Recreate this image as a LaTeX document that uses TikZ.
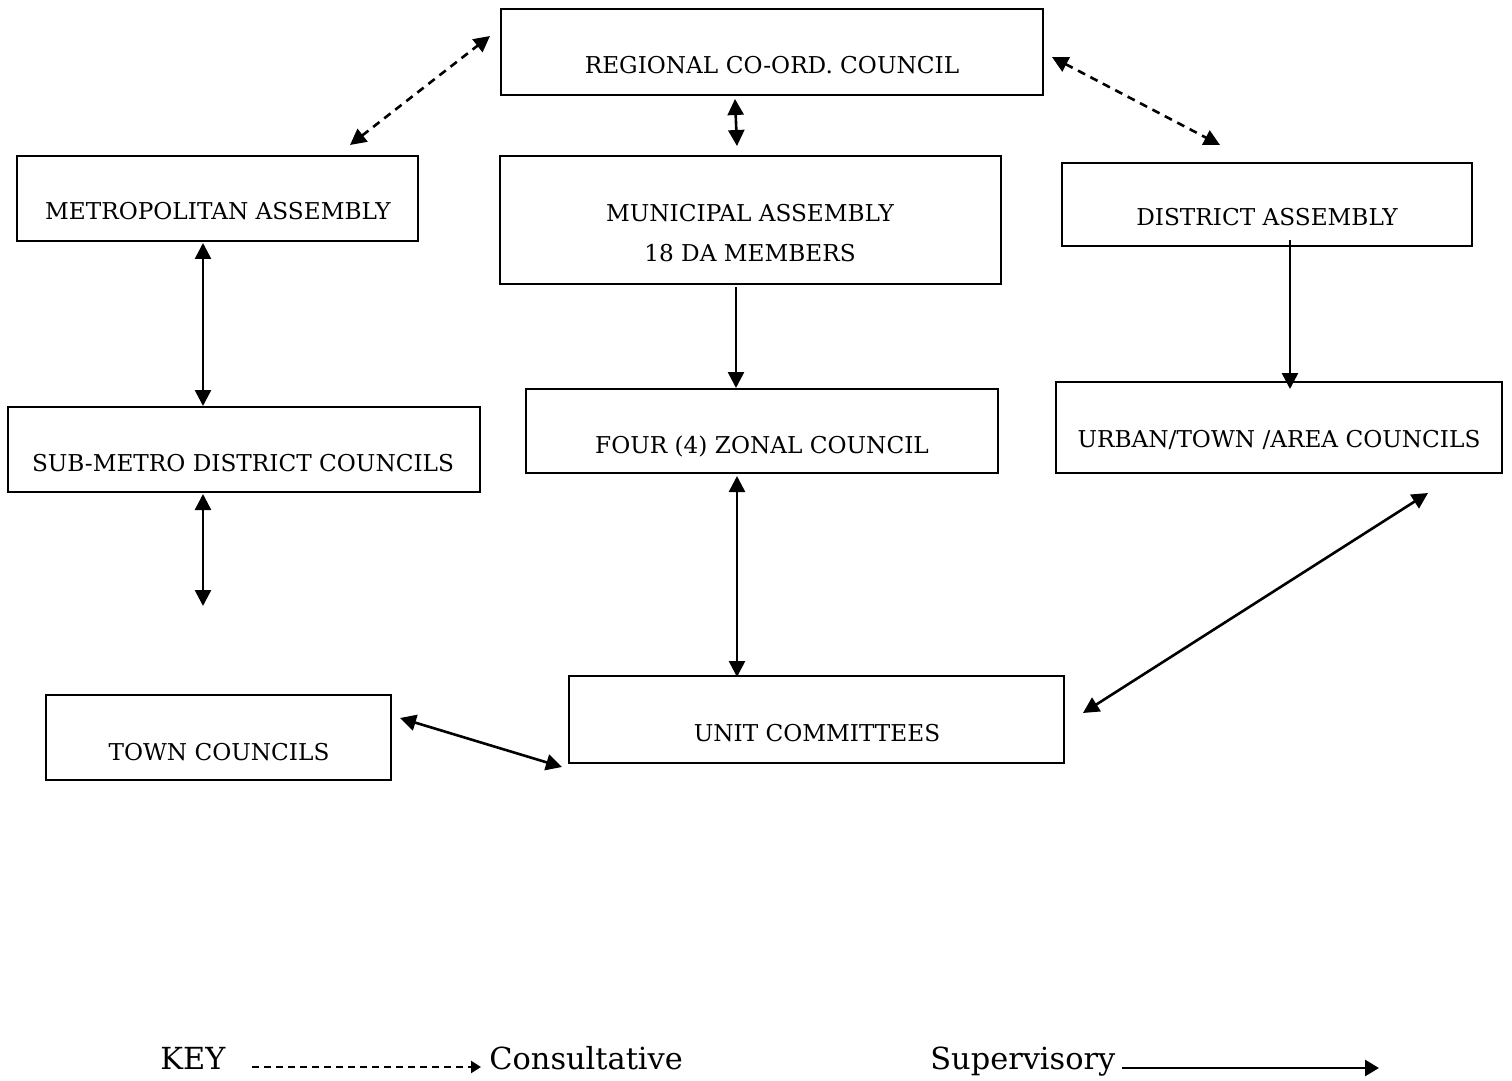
\documentclass[tikz,border=0pt]{standalone}
\usepackage{fontspec}
\setmainfont{DejaVu Serif}
\usetikzlibrary{arrows.meta,fit}
\begin{document}
\begin{tikzpicture}[x=0.5pt,y=-0.5pt,
  box/.style={draw, line width=1.4pt, inner sep=0pt},
  txt/.style={anchor=base, font=\fontsize{11.6}{14}\selectfont, inner sep=0pt},
  keytxt/.style={anchor=base west, font=\fontsize{15.2}{18}\selectfont, inner sep=0pt},
  tip/.tip={Triangle[length=8pt,width=8pt]},
  sup/.style={line width=1.3pt, -tip},
  both/.style={line width=1.3pt, tip-tip},
  cons/.style={line width=1.3pt, dash pattern=on 4pt off 3pt, tip-tip}]
\useasboundingbox (0,0) rectangle (1512,1081);

% boxes
\node[box, fit={(501,9) (1043,95)}] (rcc) {};
\node[box, fit={(17,156) (418,241)}] (met) {};
\node[box, fit={(500,156) (1001,284)}] (mun) {};
\node[box, fit={(1062,163) (1472,246)}] (dis) {};
\node[box, fit={(8,407) (480,492)}] (sub) {};
\node[box, fit={(526,389) (998,473)}] (zon) {};
\node[box, fit={(1056,382) (1502,473)}] (urb) {};
\node[box, fit={(46,695) (391,780)}] (twn) {};
\node[box, fit={(569,676) (1064,763)}] (uni) {};

% texts
\node[txt] (trcc) at (772,74) {REGIONAL CO-ORD. COUNCIL};
\node[txt] (tmet) at (218,220) {METROPOLITAN ASSEMBLY};
\node[txt] (tmun1) at (750,221.5) {MUNICIPAL ASSEMBLY};
\node[txt] (tmun2) at (750,261.5) {18 DA MEMBERS};
\node[txt] (tdis) at (1267,226) {DISTRICT ASSEMBLY};
\node[txt] (tsub) at (243,471) {SUB-METRO DISTRICT COUNCILS};
\node[txt] (tzon) at (762,453) {FOUR (4) ZONAL COUNCIL};
\node[txt] (turb) at (1279,447) {URBAN/TOWN /AREA COUNCILS};
\node[txt] (ttwn) at (219,760) {TOWN COUNCILS};
\node[txt] (tuni) at (817,741) {UNIT COMMITTEES};

% connector end points
\coordinate (c1a) at (350,145); \coordinate (c1b) at (490,36);
\coordinate (c2a) at (1052,57); \coordinate (c2b) at (1220,145);
\coordinate (c3a) at (735,99);  \coordinate (c3b) at (737,146);
\coordinate (c4a) at (203,243); \coordinate (c4b) at (203,406);
\coordinate (c5a) at (203,494); \coordinate (c5b) at (203,606);
\coordinate (c6a) at (736,287); \coordinate (c6b) at (736,388);
\coordinate (c7a) at (1290,240); \coordinate (c7b) at (1290,389);
\coordinate (c8a) at (737,476); \coordinate (c8b) at (737,677);
\coordinate (c9a) at (1428,493); \coordinate (c9b) at (1083,713);
\coordinate (c10a) at (400,718); \coordinate (c10b) at (562,767);

\draw[cons] (c1a) -- (c1b);
\draw[cons] (c2a) -- (c2b);
\draw[both] (c3a) -- (c3b);
\draw[both] (c4a) -- (c4b);
\draw[both] (c5a) -- (c5b);
\draw[sup] (c6a) -- (c6b);
\draw[sup] (c7a) -- (c7b);
\draw[both] (c8a) -- (c8b);
\draw[both] (c9a) -- (c9b);
\draw[both] (c10a) -- (c10b);

% key
\node[keytxt] (key) at (160,1069) {KEY};
\node[keytxt] (kcons) at (489,1069) {Consultative};
\node[keytxt] (ksup) at (930,1069) {Supervisory};
\coordinate (k1a) at (252,1067); \coordinate (k1b) at (481,1067);
\coordinate (k2a) at (1122,1068); \coordinate (k2b) at (1379,1068);
\draw[line width=1.2pt, dash pattern=on 3.4pt off 2.6pt, -{Triangle[length=5pt,width=6pt]}] (k1a) -- (k1b);
\draw[line width=1.3pt, -{Triangle[length=7pt,width=8pt]}] (k2a) -- (k2b);
\end{tikzpicture}
\end{document}
